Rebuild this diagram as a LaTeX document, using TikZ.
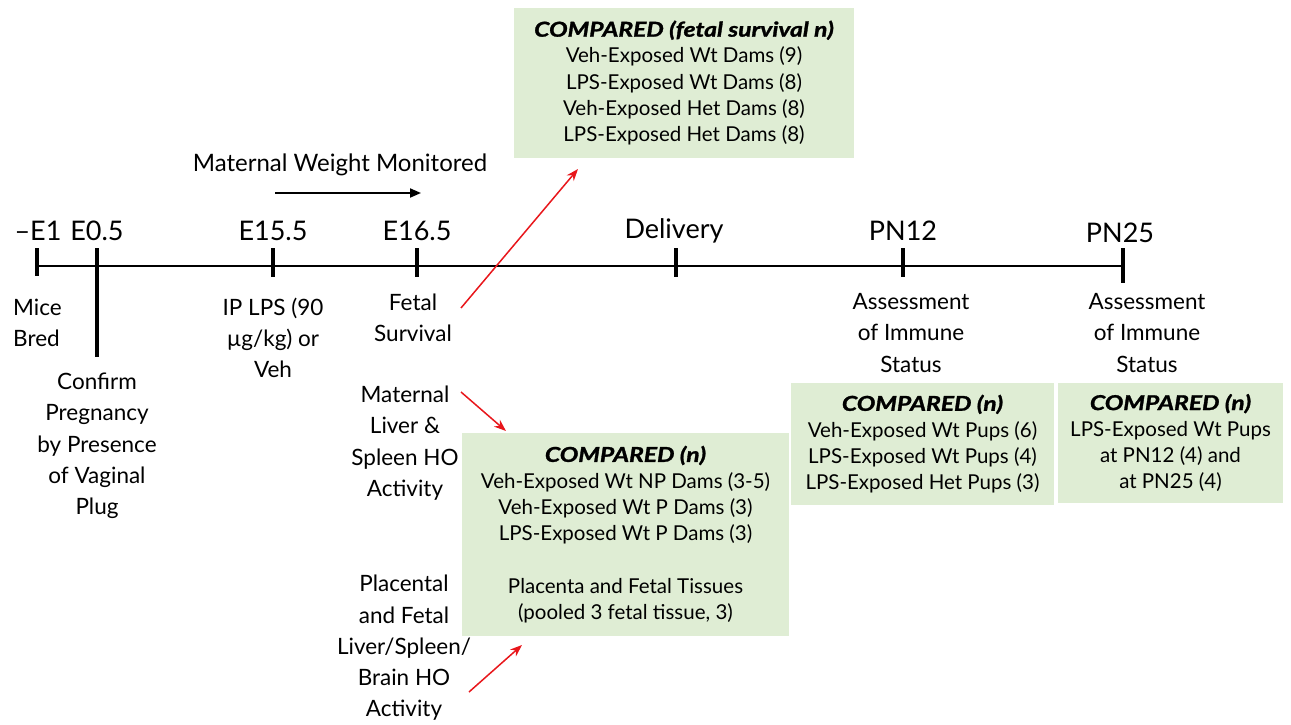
\documentclass[tikz,border=0pt]{standalone}
\usepackage{fontspec}
\usepackage{graphicx}
\setmainfont{Lato}
\newfontfamily\titlefont{Lato}[FakeBold=1.3]
\usetikzlibrary{arrows.meta}
\definecolor{boxgreen}{HTML}{DFEDD4}
\definecolor{arrred}{HTML}{E8161B}
\begin{document}
\begin{tikzpicture}[x=1pt,y=-1pt,
  lbl/.style={align=center, font=\fontsize{22.5}{31.3}\selectfont, inner sep=0pt},
  elabel/.style={font=\fontsize{27}{30}\selectfont, inner sep=0pt},
  tickmark/.style={line width=3.5pt},
  greenbox/.style={fill=boxgreen, draw=none, align=center, inner sep=0pt, font=\fontsize{20.5}{26.3}\selectfont},
  redarrow/.style={draw=arrred, line width=1.5pt, -{Stealth[length=12pt,width=9pt]}},
]
\newcommand\boxtitle[1]{\scalebox{1.2}[1]{\titlefont\bfseries\itshape #1}}
\useasboundingbox (0,0) rectangle (1291,725);
% timeline
\coordinate (t1) at (37,266);
\coordinate (t2) at (97,266);
\coordinate (t3) at (273,266);
\coordinate (t4) at (417,266);
\coordinate (t5) at (676,266);
\coordinate (t6) at (903,266);
\coordinate (t7) at (1123,266);
\draw[line width=2pt] (t1) -- (t7);
\draw[tickmark] (37,248) -- (37,276);
\draw[tickmark] (97,248) -- (97,357);
\draw[tickmark] (273,248) -- (273,277);
\draw[tickmark] (417,248) -- (417,277);
\draw[tickmark] (676,248) -- (676,277);
\draw[tickmark] (903,248) -- (903,277);
\draw[tickmark] (1123,248) -- (1123,283);
% timeline labels
\node[elabel] (le1) at (38,231) {–E1};
\node[elabel] (le05) at (97,231) {E0.5};
\node[elabel] (le155) at (273,231) {E15.5};
\node[elabel] (le165) at (417,231) {E16.5};
\node[elabel] (ldel) at (674,231) {Delivery};
\node[elabel] (lpn12) at (903,231) {PN12};
\node[elabel] (lpn25) at (1120,233) {PN25};
% maternal weight
\node[inner sep=0pt, font=\fontsize{24}{28}\selectfont] (mw) at (340,165) {Maternal Weight Monitored};
\coordinate (mwa) at (275,193);
\coordinate (mwb) at (421,193);
\draw[line width=2pt, -{Triangle[length=11pt,width=9pt]}] (mwa) -- (mwb);
% lower labels
\node[lbl, align=left, anchor=west] (mice) at (13,323) {Mice\\Bred};
\node[lbl] (confirm) at (97,446) {Confirm\\Pregnancy\\by Presence\\of Vaginal\\Plug};
\node[lbl] (iplps) at (273,338) {IP LPS (90\\µg/kg) or\\Veh};
\node[lbl] (fetal) at (413,318) {Fetal\\Survival};
\node[lbl] (assess1) at (911,333) {Assessment\\of Immune\\Status};
\node[lbl] (assess2) at (1147,333) {Assessment\\of Immune\\Status};
\node[lbl] (maternal) at (405,443) {Maternal\\Liver \&\\Spleen HO\\Activity};
\node[lbl] (placental) at (404,648) {Placental\\and Fetal\\Liver/Spleen/\\Brain HO\\Activity};
% boxes
\node[greenbox, minimum width=340pt, minimum height=150pt] (box1) at (684,83)
  {\boxtitle{COMPARED (fetal survival n)}\\Veh-Exposed Wt Dams (9)\\LPS-Exposed Wt Dams (8)\\Veh-Exposed Het Dams (8)\\LPS-Exposed Het Dams (8)};
\node[greenbox, minimum width=327pt, minimum height=203pt] (box2) at (625.5,534.5)
  {\boxtitle{COMPARED (n)}\\Veh-Exposed Wt NP Dams (3-5)\\Veh-Exposed Wt P Dams (3)\\LPS-Exposed Wt P Dams (3)\\[26.3pt]Placenta and Fetal Tissues\\(pooled 3 fetal tissue, 3)};
\node[greenbox, minimum width=263pt, minimum height=122pt] (box3) at (922.5,444)
  {\boxtitle{COMPARED (n)}\\Veh-Exposed Wt Pups (6)\\LPS-Exposed Wt Pups (4)\\LPS-Exposed Het Pups (3)};
\node[greenbox, minimum width=225pt, minimum height=120pt] (box4) at (1170.5,443)
  {\boxtitle{COMPARED (n)}\\LPS-Exposed Wt Pups\\at PN12 (4) and\\at PN25 (4)};
% red arrows
\coordinate (r1a) at (461,308);
\coordinate (r1b) at (578,169);
\coordinate (r2a) at (461,392);
\coordinate (r2b) at (506,431);
\coordinate (r3a) at (469,692);
\coordinate (r3b) at (522,645);
\draw[redarrow] (r1a) -- (r1b);
\draw[redarrow] (r2a) -- (r2b);
\draw[redarrow] (r3a) -- (r3b);
\end{tikzpicture}
\end{document}
